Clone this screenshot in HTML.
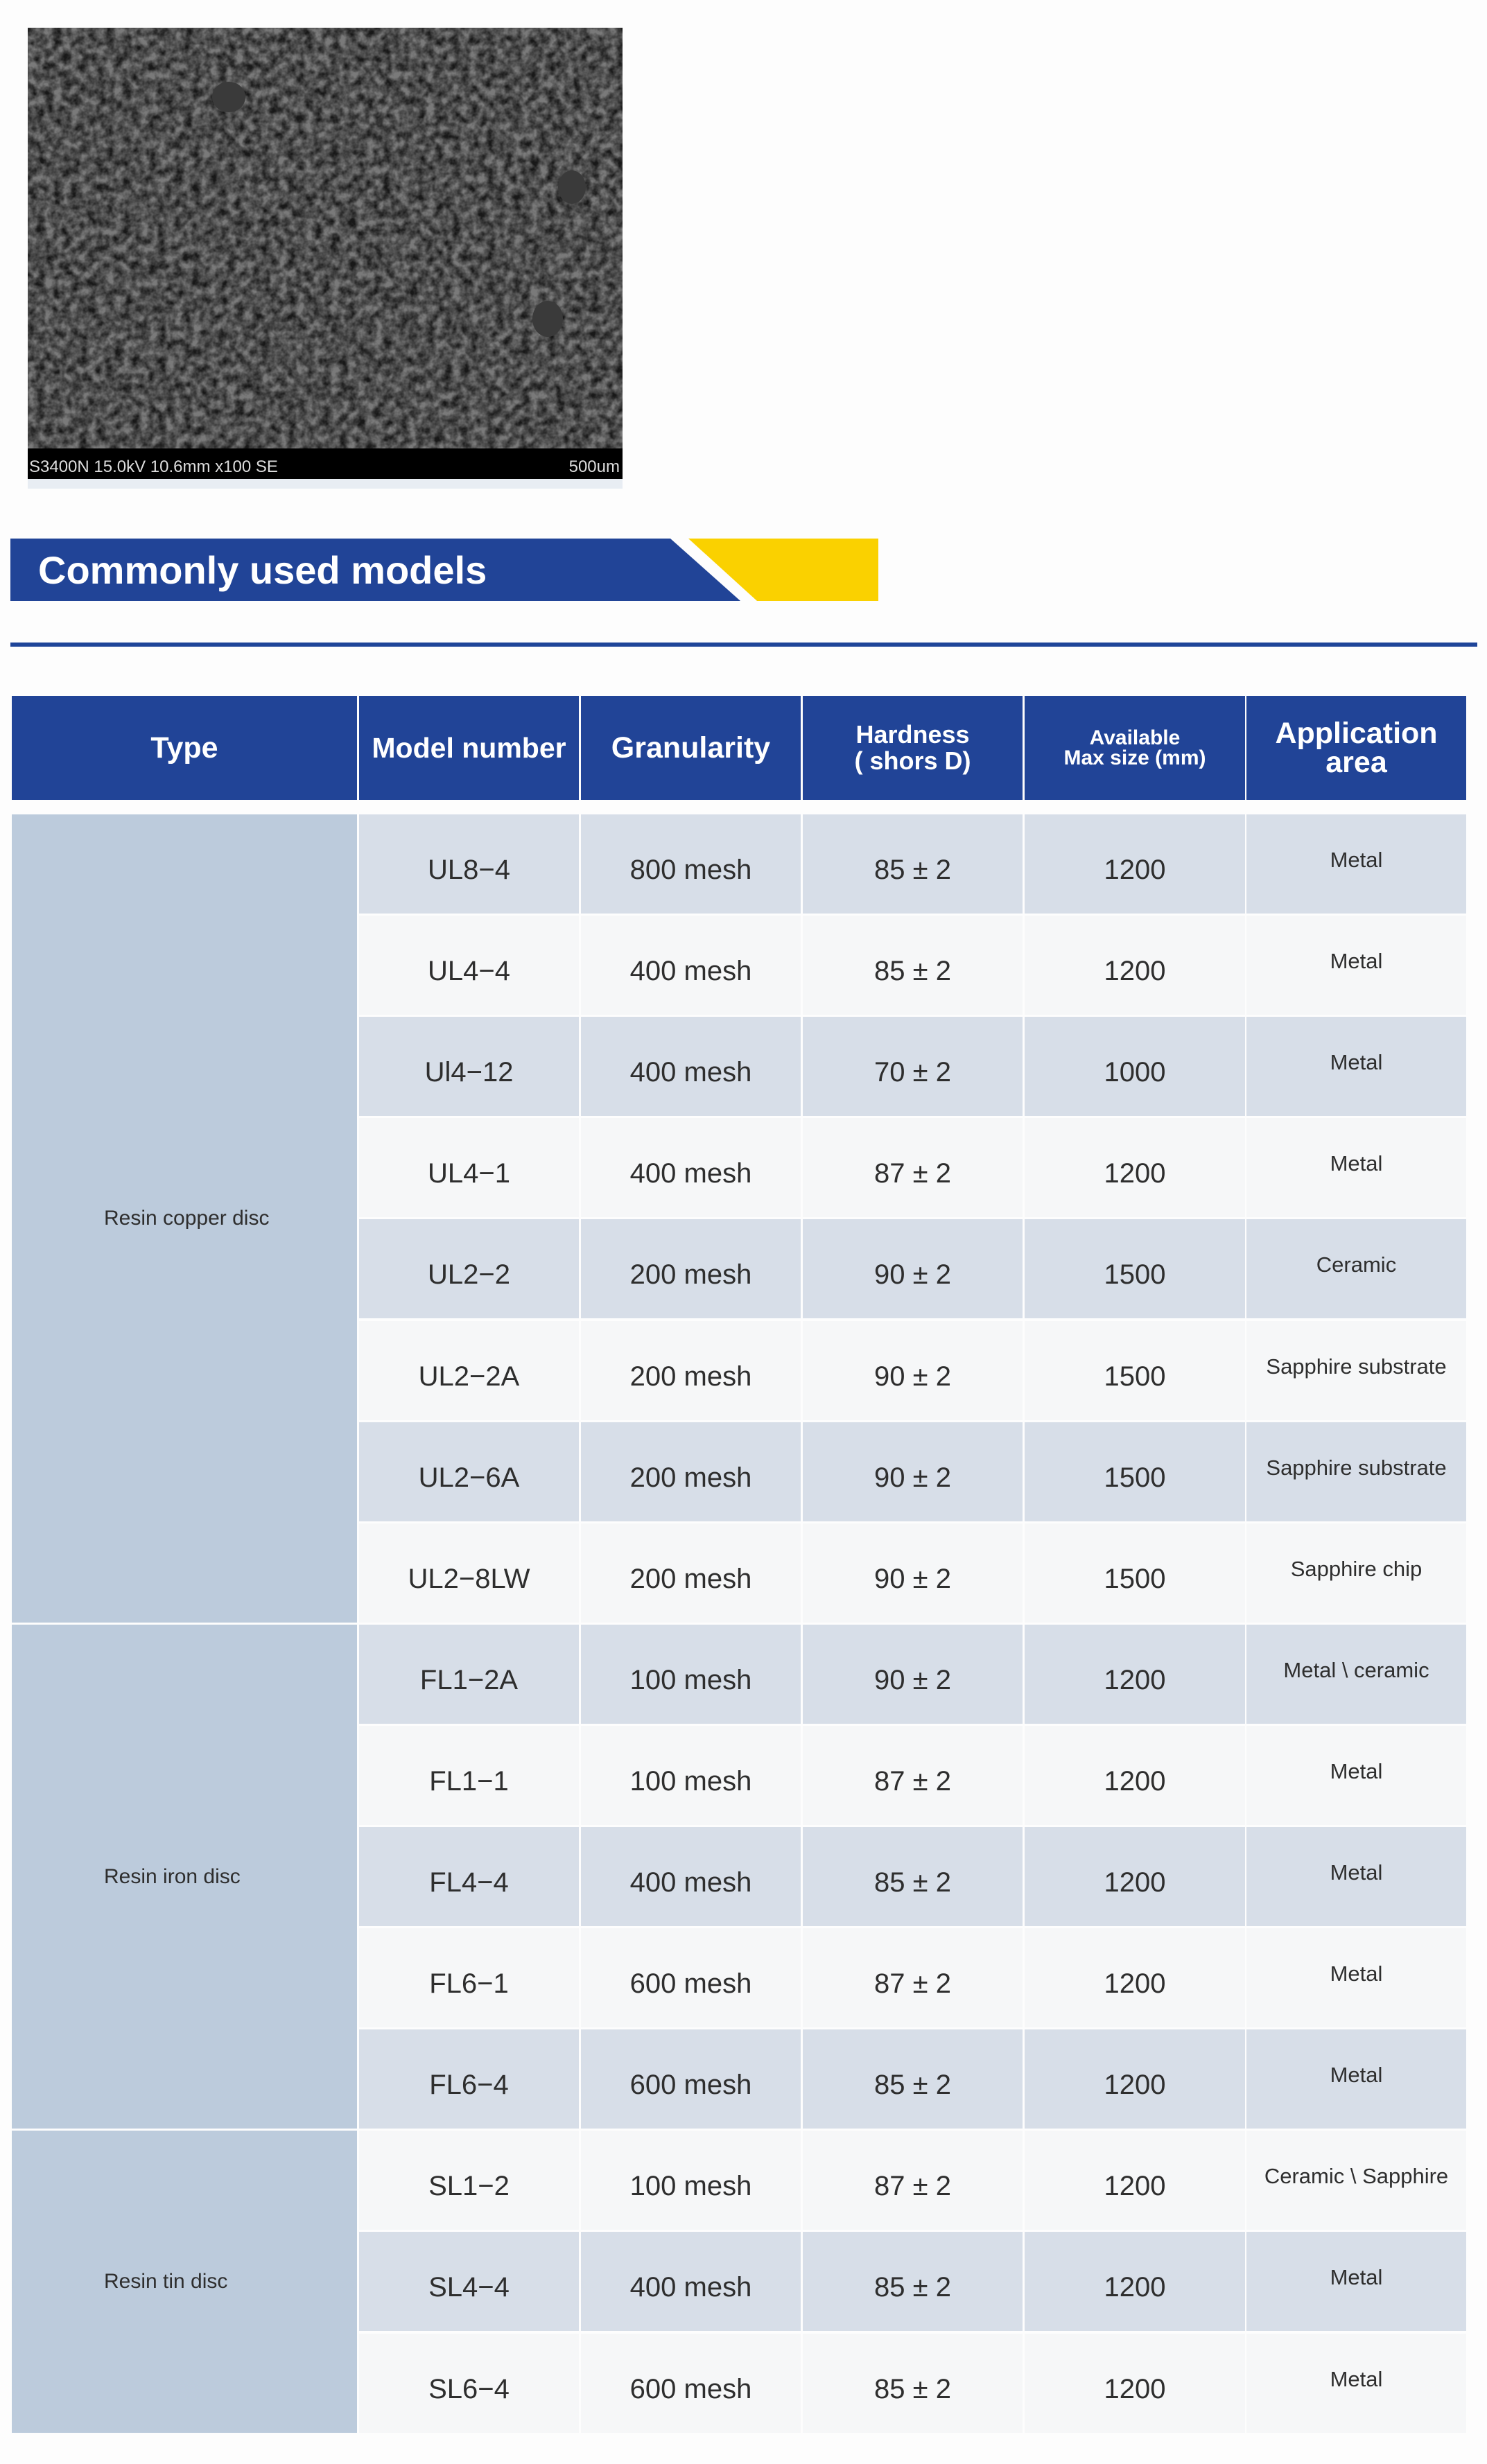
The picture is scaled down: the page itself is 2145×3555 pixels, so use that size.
<!DOCTYPE html>
<html><head><meta charset="utf-8"><style>
body{margin:0;width:2145px;height:3555px;background:#fdfdfd;position:relative;overflow:hidden;font-family:"Liberation Sans",sans-serif}
.a{position:absolute}
.h{position:absolute;background:#214497;color:#fff;font-weight:bold;display:flex;align-items:center;justify-content:center;text-align:center;top:1004px;height:150px}
.c{position:absolute;display:flex;align-items:center;justify-content:center;color:#2e2e2e;font-size:40px;box-sizing:border-box;padding-top:18px}
.ap{position:absolute;text-align:center;color:#2e2e2e;font-size:31px}
</style></head><body>
<svg class="a" style="left:40px;top:40px" width="858" height="665">
<defs><filter id="n" x="0" y="0" width="100%" height="100%">
<feTurbulence type="fractalNoise" baseFrequency="0.08" numOctaves="3" seed="4"/>
<feColorMatrix type="matrix" values="0 0 0 0 0  0 0 0 0 0  0 0 0 0 0  1.8 0 0 0 -0.45"/>
</filter></defs>
<rect width="858" height="607" fill="#7a7a7a"/>
<rect width="858" height="607" fill="#cfcfcf" filter="url(#n)" opacity="0.8"/>
<ellipse cx="290" cy="100" rx="24" ry="22" fill="#3a3a3a"/>
<ellipse cx="785" cy="230" rx="20" ry="24" fill="#3a3a3a"/>
<ellipse cx="750" cy="420" rx="22" ry="26" fill="#3a3a3a"/>
<rect y="607" width="858" height="44" fill="#000"/>
<rect y="651" width="858" height="14" fill="#e8edf3"/>
<text x="2" y="641" fill="#ddd" font-size="24" font-family="Liberation Sans">S3400N 15.0kV 10.6mm x100 SE</text>
<text x="854" y="641" fill="#ddd" font-size="24" text-anchor="end" font-family="Liberation Sans">500um</text>
</svg>
<svg class="a" style="left:0;top:777px" width="1280" height="92">
<polygon points="15,0 967,0 1068,90 15,90" fill="#214497"/>
<polygon points="993,0 1267,0 1267,90 1092,90" fill="#fad100"/>
<text x="55" y="65" fill="#fff" font-size="56" font-weight="bold" font-family="Liberation Sans">Commonly used models</text>
</svg>
<div class="a" style="left:15px;top:927px;width:2116px;height:6px;background:#1f4599"></div>
<div class="h" style="left:17px;width:498px;font-size:43px">Type</div>
<div class="h" style="left:518px;width:317px;font-size:41px">Model number</div>
<div class="h" style="left:838px;width:317px;font-size:43px">Granularity</div>
<div class="h" style="left:1158px;width:317px;font-size:36px;line-height:38px">Hardness<br>( shors D)</div>
<div class="h" style="left:1478px;width:318px;font-size:30px;line-height:29px">Available<br>Max size (mm)</div>
<div class="h" style="left:1798px;width:317px;font-size:43px;line-height:42px">Application<br>area</div>
<div id="t"></div>
<script>
var R=[["UL8−4","800 mesh","85 ± 2","1200","Metal"],["UL4−4","400 mesh","85 ± 2","1200","Metal"],["Ul4−12","400 mesh","70 ± 2","1000","Metal"],["UL4−1","400 mesh","87 ± 2","1200","Metal"],["UL2−2","200 mesh","90 ± 2","1500","Ceramic"],["UL2−2A","200 mesh","90 ± 2","1500","Sapphire substrate"],["UL2−6A","200 mesh","90 ± 2","1500","Sapphire substrate"],["UL2−8LW","200 mesh","90 ± 2","1500","Sapphire chip"],["FL1−2A","100 mesh","90 ± 2","1200","Metal \\ ceramic"],["FL1−1","100 mesh","87 ± 2","1200","Metal"],["FL4−4","400 mesh","85 ± 2","1200","Metal"],["FL6−1","600 mesh","87 ± 2","1200","Metal"],["FL6−4","600 mesh","85 ± 2","1200","Metal"],["SL1−2","100 mesh","87 ± 2","1200","Ceramic \\ Sapphire"],["SL4−4","400 mesh","85 ± 2","1200","Metal"],["SL6−4","600 mesh","85 ± 2","1200","Metal"]];
var X=[[518,317],[838,317],[1158,317],[1478,318],[1798,317]];
var h="",P=146.1,Y0=1175;
R.forEach(function(r,i){var y=Math.round(Y0+i*P),bg=i%2?"#f6f7f8":"#d7dee8";
for(var j=0;j<5;j++){var s="left:"+X[j][0]+"px;top:"+y+"px;width:"+X[j][1]+"px;height:143px;background:"+bg;
if(j<4)h+='<div class="c" style="'+s+'">'+r[j]+'</div>';
else h+='<div class="ap" style="'+s+';box-sizing:border-box;padding-top:48px">'+r[j]+'</div>';}});
var G=[[0,8,"Resin copper disc"],[8,13,"Resin iron disc"],[13,16,"Resin tin disc"]];
G.forEach(function(g){var y=Math.round(Y0+g[0]*P),e=Math.round(Y0+g[1]*P)-3;
h+='<div class="a" style="left:17px;top:'+y+'px;width:498px;height:'+(e-y)+'px;background:#bccbdc;display:flex;align-items:center;color:#2e2e2e;font-size:30px"><span style="margin-left:133px">'+g[2]+'</span></div>';});
document.getElementById("t").innerHTML=h;
</script>
</body></html>
